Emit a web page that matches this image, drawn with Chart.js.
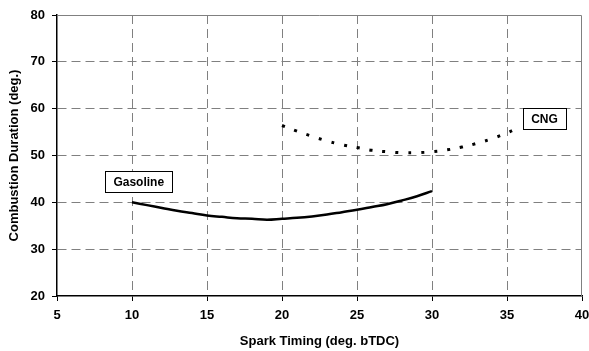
<!DOCTYPE html>
<html>
<head>
<meta charset="utf-8">
<script src="https://cdn.jsdelivr.net/npm/chart.js@4"></script>
<style>
  body { margin: 0; background: #fff; }
  canvas { display: block; }
</style>
</head>
<body>
<canvas id="durationChart" width="589" height="351"></canvas>
<script>
// values
const gasolineX = [10, 11, 12, 13, 14, 15, 16, 17, 18, 19, 20, 21, 22, 23, 24, 25, 26, 27, 28, 29, 30];
const gasolineY = [40.0, 39.4, 38.8, 38.2, 37.7, 37.2, 36.9, 36.6, 36.5, 36.3, 36.5, 36.7, 37.0, 37.4, 37.9, 38.4, 39.0, 39.6, 40.4, 41.3, 42.4];
const cngX = [20, 21, 22, 23, 24, 25, 26, 27, 28, 29, 30, 31, 32, 33, 34, 35, 35.4];
const cngY = [56.4, 55.2, 54.1, 53.1, 52.3, 51.7, 51.1, 50.8, 50.6, 50.6, 50.8, 51.2, 51.8, 52.6, 53.6, 54.8, 55.4];
const xTicks = [5, 10, 15, 20, 25, 30, 35, 40];
const yTicks = [20, 30, 40, 50, 60, 70, 80];
const seriesLabels = [
    { text: 'Gasoline', x: 10.45, y: 44.4 },
    { text: 'CNG', x: 37.5, y: 57.9 }
];

const fontFamily = '"Liberation Sans", Arial, sans-serif';

const framePlugin = {
    id: 'frame',
    beforeDatasetsDraw(chart) {
        const { ctx, chartArea: a } = chart;
        ctx.save();
        ctx.strokeStyle = '#808080';
        ctx.lineWidth = 1;
        ctx.beginPath();
        ctx.moveTo(a.left, a.top + 0.5);
        ctx.lineTo(a.right - 0.5, a.top + 0.5);
        ctx.lineTo(a.right - 0.5, a.bottom);
        ctx.stroke();
        ctx.restore();
    }
};

const labelPlugin = {
    id: 'seriesLabels',
    afterDatasetsDraw(chart) {
        const { ctx, scales } = chart;
        ctx.save();
        ctx.font = 'bold 12px ' + fontFamily;
        ctx.textAlign = 'center';
        ctx.textBaseline = 'middle';
        seriesLabels.forEach(l => {
            const px = scales.x.getPixelForValue(l.x);
            const py = scales.y.getPixelForValue(l.y);
            const w = Math.round(ctx.measureText(l.text).width + 16);
            const h = 21;
            const bx = Math.round(px - w / 2) + 0.5;
            const by = Math.round(py - h / 2) + 0.5;
            ctx.fillStyle = '#fff';
            ctx.fillRect(bx, by, w, h);
            ctx.strokeStyle = '#000';
            ctx.lineWidth = 1;
            ctx.strokeRect(bx, by, w, h);
            ctx.fillStyle = '#000';
            ctx.fillText(l.text, px, py + 1);
        });
        ctx.restore();
    }
};

const tickFont = { family: fontFamily, size: 13, weight: 'bold' };
const titleFont = { family: fontFamily, size: 13, weight: 'bold' };

new Chart(document.getElementById('durationChart'), {
    type: 'line',
    data: {
        datasets: [{
            label: 'Gasoline',
            data: gasolineX.map((x, i) => ({ x: x, y: gasolineY[i] })),
            borderColor: '#000',
            borderWidth: 2.5,
            pointRadius: 0,
            tension: 0.4
        }, {
            label: 'CNG',
            data: cngX.map((x, i) => ({ x: x, y: cngY[i] })),
            borderColor: '#000',
            borderWidth: 3,
            borderDash: [3, 10],
            pointRadius: 0,
            tension: 0.4
        }]
    },
    options: {
        responsive: false,
        animation: false,
        devicePixelRatio: 1,
        layout: { padding: { top: 15, right: 7, left: 0, bottom: 0 } },
        plugins: {
            legend: { display: false },
            tooltip: { enabled: false }
        },
        scales: {
            x: {
                type: 'linear',
                min: 5,
                max: 40,
                afterFit: s => { s.height = 55; s.paddingLeft = 0; s.paddingRight = 0; },
                afterBuildTicks: s => { s.ticks = xTicks.map(v => ({ value: v })); },
                ticks: { color: '#000', font: tickFont, padding: 7, maxRotation: 0 },
                grid: {
                    color: c => (c.tick && (c.tick.value === 5 || c.tick.value === 40)) ? 'rgba(0,0,0,0)' : '#808080',
                    tickColor: '#000',
                    tickLength: 5,
                    lineWidth: 1
                },
                border: { color: '#000', width: 1.5, dash: [9, 5] },
                title: { display: true, text: 'Spark Timing (deg. bTDC)', color: '#000', font: titleFont, padding: { top: 0, bottom: 2 } }
            },
            y: {
                min: 20,
                max: 80,
                afterFit: s => { s.width = 57; s.paddingTop = 0; s.paddingBottom = 0; },
                afterBuildTicks: s => { s.ticks = yTicks.map(v => ({ value: v })); },
                ticks: { color: '#000', font: tickFont, padding: 7 },
                grid: {
                    color: c => (c.tick && (c.tick.value === 20 || c.tick.value === 80)) ? 'rgba(0,0,0,0)' : '#808080',
                    tickColor: '#000',
                    tickLength: 5,
                    lineWidth: 1
                },
                border: { color: '#000', width: 1.5, dash: [9, 5] },
                title: { display: true, text: 'Combustion Duration (deg.)', color: '#000', font: titleFont, padding: { top: 7, bottom: 0 } }
            }
        }
    },
    plugins: [framePlugin, labelPlugin]
});
</script>
</body>
</html>
